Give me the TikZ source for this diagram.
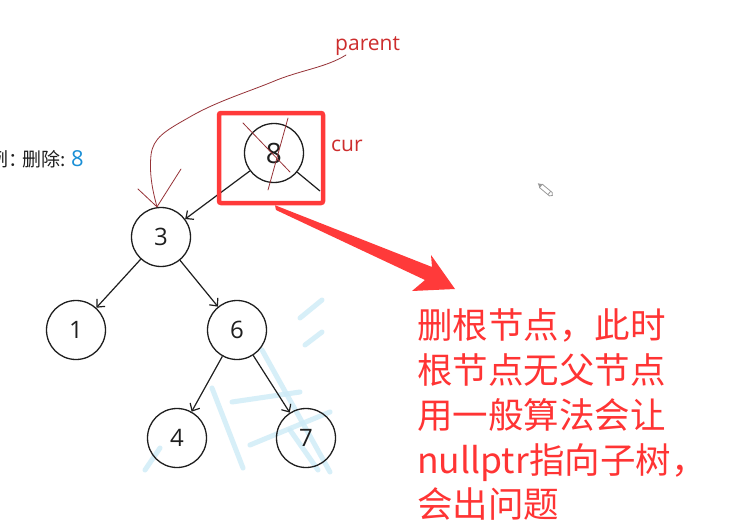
\documentclass[tikz,border=0pt]{standalone}
\usepackage{fontspec}
\setmainfont{Open Sans}
\newfontfamily\cjk{Noto Sans CJK SC}
\usetikzlibrary{arrows.meta}
\definecolor{boxred}{RGB}{255,58,58}
\definecolor{txtred}{RGB}{255,52,52}
\definecolor{lblred}{RGB}{205,45,45}
\definecolor{inkred}{RGB}{150,50,55}
\definecolor{wmblue}{RGB}{205,235,247}
\definecolor{numblue}{RGB}{26,143,214}
\definecolor{nodeink}{RGB}{30,30,30}
\tikzset{
  treenode/.style={circle, draw=nodeink, line width=1.3pt, minimum size=59pt, inner sep=0pt, text=nodeink, font=\fontsize{24}{24}\selectfont},
  edge/.style={draw=nodeink, line width=1.2pt, -{Straight Barb[length=6pt,width=11pt,line width=1.2pt]}},
  plainedge/.style={draw=nodeink, line width=1.2pt},
  ink/.style={draw=inkred, line width=0.8pt, line cap=round, line join=round},
  wm/.style={draw=wmblue, line width=5pt, line cap=round},
  redtxt/.style={anchor=base west, inner sep=0pt, text=txtred, font=\cjk\fontsize{35.5}{45}\selectfont},
  smalllbl/.style={anchor=base west, inner sep=0pt, text=lblred, font=\fontsize{21}{21}\selectfont}
}
\begin{document}
\begin{tikzpicture}[x=1pt,y=-1pt]
\useasboundingbox (0,0) rectangle (740,522);
\fill[white] (0,0) rectangle (740,522);
% faint watermark strokes
\begin{scope}[opacity=0.8]
\draw[wm] (262,350) -- (330,472);
\draw[wm] (212,388) -- (243,468);
\draw[wm] (250,445) -- (330,412);
\draw[wm] (232,402) -- (300,392);
\draw[wm] (300,318) -- (322,300);
\draw[wm] (305,345) -- (322,332);
\draw[wm] (145,470) -- (160,448);
\draw[wm] (290,430) -- (318,470);
\end{scope}
% left caption
\node[anchor=base west, inner sep=0pt, text=nodeink, font=\cjk\fontsize{19}{19}\selectfont] (cap) at (-11,166) {例：\kern-5pt删除:};
\node[anchor=base west, inner sep=0pt, text=numblue, font=\fontsize{22}{22}\selectfont] (capnum) at (71,166.5) {8};
% tree nodes
\node[treenode, font=\fontsize{28}{28}\selectfont] (n8) at (274,153) {8};
\node[treenode] (n3) at (161,237) {3};
\node[treenode] (n1) at (76,330) {1};
\node[treenode] (n6) at (237,330) {6};
\node[treenode] (n4) at (177,438) {4};
\node[treenode] (n7) at (306,438) {7};
\coordinate (rend) at (320,191);
\draw[edge] (n8) -- (n3);
\draw[plainedge] (n8) -- (rend);
\draw[edge] (n3) -- (n1);
\draw[edge] (n3) -- (n6);
\draw[edge] (n6) -- (n4);
\draw[edge] (n6) -- (n7);
% cross-out on 8
\draw[ink] (243,123) -- (290,172);
\draw[ink] (288,118) -- (268,190);
% red box
\node[draw=boxred, line width=4.5pt, rounded corners=2pt, minimum width=104pt, minimum height=90pt, inner sep=0pt] (box) at (271,158) {};
% labels
\node[smalllbl] (parent) at (335,50) {parent};
\node[smalllbl] (cur) at (331,151) {cur};
% hand-drawn parent pointer
\coordinate (ptip) at ([xshift=-4pt]n3.north);
\draw[ink] (346,55) .. controls (325,68) and (300,70) .. (272,82)
  .. controls (245,93) and (215,102) .. (188,118)
  .. controls (165,131) and (153,138) .. (151,155)
  .. controls (149,175) and (153,192) .. (ptip);
\draw[ink] (138,189) -- (ptip) -- (181,169);
% red arrow
\fill[boxred] (box.south) ++(4,0) coordinate (ra) -- (432,267) -- (431,255) -- (455,289) -- (412,291) -- (425,280) -- (276,210) -- cycle;
% red explanation
\node[redtxt] (t1) at (417,338) {删根节点，此时};
\node[redtxt] (t2) at (417,383) {根节点无父节点};
\node[redtxt] (t3) at (417,428) {用一般算法会让};
\node[redtxt] (t4) at (417,473) {nullptr指向子树，};
\node[redtxt] (t5) at (417,517) {会出问题};
% pencil icon
\begin{scope}[shift={(547,191)}, rotate=-40]
\draw[gray!80, line width=0.8pt, line join=round] (-8,-2.2) -- (5,-2.2) -- (7,0) -- (5,2.2) -- (-8,2.2) -- cycle;
\draw[gray!80, line width=0.8pt] (3,-2.2) -- (3,2.2);
\fill[gray!80] (-8,-2.2) -- (-12,0) -- (-8,2.2) -- cycle;
\end{scope}
\end{tikzpicture}
\end{document}
